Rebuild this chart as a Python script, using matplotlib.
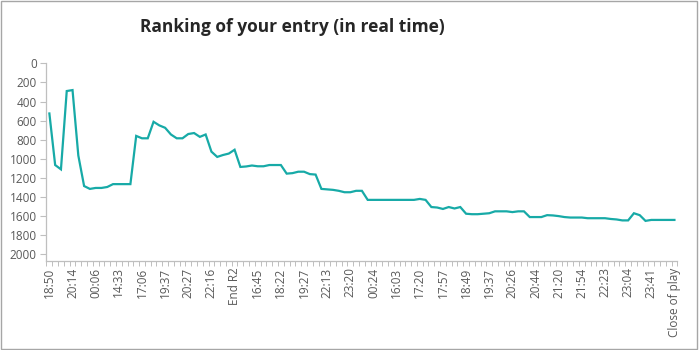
import numpy as np
import matplotlib.pyplot as plt
from matplotlib.patches import Rectangle

# ranking per snapshot (109 snapshots, label on every 4th)
ranking = [
    525, 1065, 1110, 290, 280, 965, 1285, 1315, 1305, 1305,
    1295, 1265, 1265, 1265, 1265, 760, 785, 785, 612, 650,
    675, 745, 785, 785, 740, 730, 770, 745, 925, 980,
    960, 945, 905, 1085, 1080, 1070, 1078, 1078, 1065, 1065,
    1065, 1155, 1150, 1135, 1135, 1160, 1165, 1315, 1320, 1325,
    1335, 1350, 1350, 1335, 1335, 1430, 1430, 1430, 1430, 1430,
    1430, 1430, 1430, 1430, 1420, 1430, 1505, 1510, 1525, 1505,
    1520, 1505, 1575, 1580, 1580, 1575, 1570, 1550, 1550, 1550,
    1558, 1550, 1550, 1610, 1610, 1610, 1590, 1593, 1600, 1610,
    1615, 1615, 1615, 1622, 1622, 1622, 1622, 1630, 1635, 1645,
    1645, 1570, 1590, 1650, 1640, 1640, 1640, 1640, 1640,
]
tick_labels = [
    "18:50", "20:14", "00:06", "14:33", "17:06", "19:37", "20:27",
    "22:16", "End R2", "16:45", "18:22", "19:27", "22:13", "23:20",
    "00:24", "16:03", "17:20", "17:57", "18:49", "19:37", "20:26",
    "20:44", "21:20", "21:54", "22:23", "23:04", "23:41", "Close of play",
]
y_ticks = [0, 200, 400, 600, 800, 1000, 1200, 1400, 1600, 1800, 2000]

plt.rcParams['font.family'] = ['Open Sans', 'DejaVu Sans']

fig = plt.figure(figsize=(6.99, 3.5), dpi=100)
ax = fig.add_axes([0.0665, 0.2557, 0.9025, 0.5633])

x = np.arange(len(ranking))
ax.plot(x, ranking, color='#17aaa7', linewidth=1.6, solid_joinstyle='miter')

ax.set_xlim(-0.5, len(ranking) - 0.5)
ax.set_ylim(2065, 0)

axis_grey = '#bfbfbf'
text_grey = '#595959'

ax.set_yticks(y_ticks)
ax.set_yticklabels([str(v) for v in y_ticks])
ax.tick_params(axis='y', length=4, width=0.8, color=axis_grey,
               labelcolor=text_grey, labelsize=8.5, pad=3)

ax.set_xticks(x[::4])
ax.set_xticklabels(tick_labels, rotation=90)
ax.set_xticks(np.arange(len(ranking) + 1) - 0.5, minor=True)
ax.tick_params(axis='x', which='major', length=0, labelcolor=text_grey,
               labelsize=8.5, pad=5)
ax.tick_params(axis='x', which='minor', length=3.5, width=0.7, color=axis_grey)

for side in ['top', 'right']:
    ax.spines[side].set_visible(False)
for side in ['left', 'bottom']:
    ax.spines[side].set_color(axis_grey)
    ax.spines[side].set_linewidth(0.9)

fig.text(292 / 699, 1 - 27 / 350, 'Ranking of your entry (in real time)',
         ha='center', va='center', fontsize=12.5, fontweight='bold',
         color='#262626')

# light frame round the whole chart
fig.patches.append(Rectangle((0.001, 0.004), 0.996, 0.993, transform=fig.transFigure,
                             fill=False, edgecolor='#a6a6a6', linewidth=1.0))

fig.savefig('out.png', dpi=100)
